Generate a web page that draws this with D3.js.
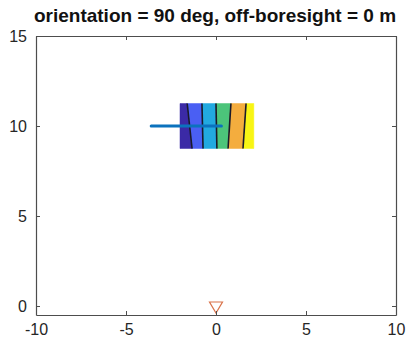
<!DOCTYPE html>
<html>
<head>
<meta charset="utf-8">
<script src="https://cdn.jsdelivr.net/npm/d3@7"></script>
<style>
  body { margin: 0; background: #fff; }
  text { font-family: "Liberation Sans", Arial, sans-serif; fill: #262626; }
</style>
</head>
<body>
<div id="chart"></div>
<script>
const width = 408;
const height = 344;

// data
const titleText = "orientation = 90 deg, off-boresight = 0 m";
const xTicks = [-10, -5, 0, 5, 10];
const yTicks = [0, 5, 10, 15];
const stripeColors = ["#3b2aa6", "#4a5ff3", "#22a9e0", "#4cc47a", "#f4ad3e", "#f8f514"];
const edgeTop = [-2.0, -1.6, -0.78, 0.0, 0.83, 1.67, 2.1];
const edgeBottom = [-2.0, -1.33, -0.72, 0.05, 0.67, 1.5, 2.1];
const patchY = [8.75, 11.25];
const rayX = [-3.6, 0.3];
const rayY = [10, 10];
const markerX = [0];
const markerY = [0];

const svg = d3.select("#chart")
    .append("svg")
    .attr("width", width)
    .attr("height", height);

const x = d3.scaleLinear().domain([-10, 10]).range([36, 396]);
const y = d3.scaleLinear().domain([-0.5, 15]).range([315, 36]);

// title
svg.append("text")
    .attr("x", 215)
    .attr("y", 22)
    .attr("text-anchor", "middle")
    .style("font-weight", "bold")
    .style("font-size", "19px")
    .style("fill", "#111")
    .text(titleText);

// striped patch
const stripes = d3.range(stripeColors.length).map(i => [
    [edgeTop[i], patchY[1]],
    [edgeTop[i + 1], patchY[1]],
    [edgeBottom[i + 1], patchY[0]],
    [edgeBottom[i], patchY[0]]
]);

svg.selectAll("path.stripe")
    .data(stripes)
    .enter()
    .append("path")
    .attr("class", "stripe")
    .attr("d", d => "M" + d.map(p => x(p[0]) + "," + y(p[1])).join("L") + "Z")
    .style("fill", (d, i) => stripeColors[i])
    .style("stroke", (d, i) => stripeColors[i])
    .style("stroke-width", 0.5);

// dark boundaries between stripes
svg.selectAll("line.edge")
    .data(d3.range(1, edgeTop.length - 1))
    .enter()
    .append("line")
    .attr("class", "edge")
    .attr("x1", i => x(edgeTop[i]))
    .attr("y1", y(patchY[1]))
    .attr("x2", i => x(edgeBottom[i]))
    .attr("y2", y(patchY[0]))
    .style("stroke", "#1a1a2a")
    .style("stroke-width", 1.6);

// ray
svg.append("path")
    .datum(rayX.map((v, i) => [v, rayY[i]]))
    .attr("d", d3.line().x(d => x(d[0])).y(d => y(d[1])))
    .style("fill", "none")
    .style("stroke", "#0b72bd")
    .style("stroke-width", 3)
    .style("stroke-linecap", "round");

// receiver marker
svg.selectAll("path.marker")
    .data(markerX.map((v, i) => [v, markerY[i]]))
    .enter()
    .append("path")
    .attr("class", "marker")
    .attr("d", d => {
        const cx = x(d[0]), cy = y(d[1]) + 1.5;
        return `M${cx - 6.5},${cy - 5.5}L${cx + 6.5},${cy - 5.5}L${cx},${cy + 5.5}Z`;
    })
    .style("fill", "none")
    .style("stroke", "#d9734a")
    .style("stroke-width", 1.2);

// axes
const fmt = d => String(d);

function styleAxis(g) {
    g.selectAll("path.domain").style("stroke", "#4d4d4d").style("stroke-width", 1.2);
    g.selectAll(".tick line").style("stroke", "#4d4d4d");
    g.selectAll(".tick text").style("font-size", "16px").style("fill", "#262626")
        .style("font-family", "'Liberation Sans', Arial, sans-serif");
}

svg.append("g")
    .attr("transform", `translate(0,${y(-0.5)})`)
    .call(d3.axisBottom(x).tickValues(xTicks).tickFormat(fmt).tickSizeInner(-4).tickSizeOuter(0).tickPadding(9))
    .call(styleAxis);

svg.append("g")
    .attr("transform", `translate(0,${y(15)})`)
    .call(d3.axisTop(x).tickValues(xTicks).tickSizeInner(-4).tickSizeOuter(0).tickFormat(""))
    .call(styleAxis);

svg.append("g")
    .attr("transform", `translate(${x(-10)},0)`)
    .call(d3.axisLeft(y).tickValues(yTicks).tickFormat(fmt).tickSizeInner(-4).tickSizeOuter(0).tickPadding(9))
    .call(styleAxis);

svg.append("g")
    .attr("transform", `translate(${x(10)},0)`)
    .call(d3.axisRight(y).tickValues(yTicks).tickSizeInner(-4).tickSizeOuter(0).tickFormat(""))
    .call(styleAxis);
</script>
</body>
</html>
